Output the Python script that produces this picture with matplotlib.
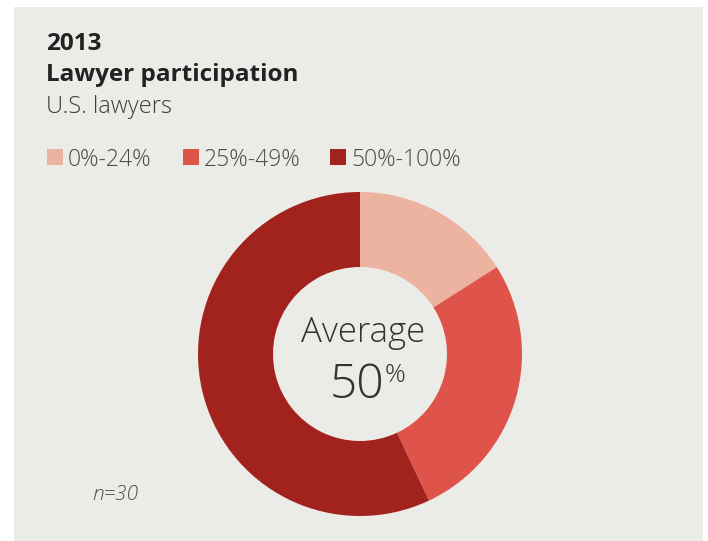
import matplotlib.pyplot as plt
from matplotlib.patches import Rectangle

### data
labels = ['0%-24%', '25%-49%', '50%-100%']
shares = [16, 27, 57]
colors = ['#EDB3A1', '#DE544B', '#A2231D']
average = '50'
n_label = 'n=30'

W, H = 708, 541
bg = '#EBEBE7'

def fx(x):
    return x / W

def fy(y):
    return 1 - y / H

fig = plt.figure(figsize=(W / 100, H / 100), dpi=100)
fig.patch.set_facecolor('white')

# grey panel
fig.patches.append(Rectangle((fx(14), 0), fx(703) - fx(14), fy(7), transform=fig.transFigure,
                             facecolor=bg, edgecolor='none', zorder=-5))

font = 'Open Sans'

### titles
fig.text(fx(46), fy(50), '2013', fontsize=17.5, fontweight='bold', family=font, color='#222222')
fig.text(fx(46), fy(81), 'Lawyer participation', fontsize=17.5, fontweight='bold', family=font, color='#222222')
fig.text(fx(46), fy(113), 'U.S. lawyers', fontsize=17, fontweight='light', family=font, color='#3c3c3c')

### legend
leg_x = [47, 183, 330]
for lx, lab, c in zip(leg_x, labels, colors):
    fig.patches.append(Rectangle((fx(lx), fy(165)), 16 / W, 16 / H, transform=fig.transFigure,
                                 facecolor=c, edgecolor='none'))
    fig.text(fx(lx + 21), fy(166), lab, fontsize=16.5, fontweight='light', family=font, color='#4a4a4a')

### donut
ax = fig.add_axes([fx(198), fy(516), 324 / W, 324 / H])
ax.pie(shares, colors=colors, startangle=90, counterclock=False, radius=1,
       wedgeprops={'width': 1 - 87 / 162, 'linewidth': 0})
ax.set_xlim(-1, 1)
ax.set_ylim(-1, 1)
ax.set_aspect('equal')
ax.axis('off')

fig.text(fx(363), fy(342), 'Average', fontsize=25, fontweight='light', family=font, color='#333333', ha='center')
fig.text(fx(330), fy(398), average, fontsize=34.5, fontweight='light', family=font, color='#333333', ha='left')
fig.text(fx(385), fy(382), '%', fontsize=18.5, fontweight='light', family=font, color='#333333', ha='left')

fig.text(fx(92), fy(500), n_label, fontsize=15, style='italic', fontweight='light', family=font, color='#4a4a4a')

plt.savefig('out.png', dpi=100, facecolor=fig.get_facecolor())
